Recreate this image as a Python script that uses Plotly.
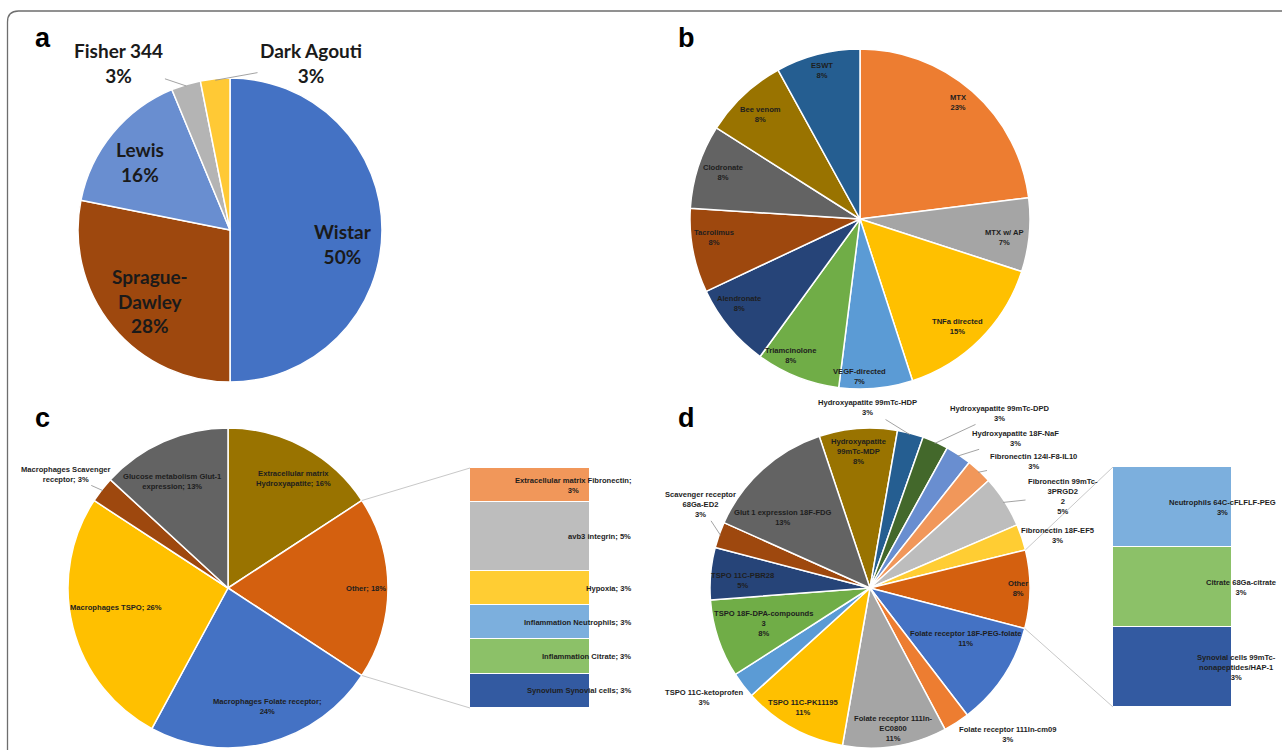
import math
import plotly.graph_objects as go

W, H = 1282, 750

# ------------------------------------------------------------------ data
# a: rat strains (number of studies)
a_labels = ["Wistar", "Sprague-<br>Dawley", "Lewis", "Fisher 344", "Dark Agouti"]
a_values = [16, 9, 5, 1, 1]

# b: treatments (percent)
b_labels = ["MTX", "MTX w/ AP", "TNFa directed", "VEGF-directed", "Triamcinolone",
            "Alendronate", "Tacrolimus", "Clodronate", "Bee venom", "ESWT"]
b_values = [23, 7, 15, 7, 8, 8, 8, 8, 8, 8]

# c: imaging targets (number of studies)
c_labels = ["Extracellular matrix<br>Hydroxyapatite", "Other", "Macrophages Folate receptor",
            "Macrophages TSPO", "Macrophages Scavenger<br>receptor", "Glucose metabolism Glut-1<br>expression"]
c_values = [6, 7, 9, 10, 1, 5]
c_other_labels = ["Extracellular matrix Fibronectin", "avb3 integrin", "Hypoxia",
                  "Inflammation Neutrophils", "Inflammation Citrate", "Synovium Synovial cells"]
c_other_values = [1, 2, 1, 1, 1, 1]

# d: tracers (number of studies)
d_labels = ["Hydroxyapatite<br>99mTc-MDP", "Hydroxyapatite 99mTc-HDP", "Hydroxyapatite 99mTc-DPD",
            "Hydroxyapatite 18F-NaF", "Fibronectin 124I-F8-IL10", "Fibronectin 99mTc-<br>3PRGD2<br>2",
            "Fibronectin 18F-EF5", "Other", "Folate receptor 18F-PEG-folate", "Folate receptor 111In-cm09",
            "Folate receptor 111In-<br>EC0800", "TSPO 11C-PK11195", "TSPO 11C-ketoprofen",
            "TSPO 18F-DPA-compounds<br>3", "TSPO 11C-PBR28", "Scavenger receptor<br>68Ga-ED2",
            "Glut 1 expression 18F-FDG"]
d_values = [3, 1, 1, 1, 1, 2, 1, 3, 4, 1, 4, 4, 1, 3, 2, 1, 5]
d_other_labels = ["Neutrophils 64C-cFLFLF-PEG", "Citrate 68Ga-citrate",
                  "Synovial cells 99mTc-<br>nonapeptides/HAP-1"]
d_other_values = [1, 1, 1]

# ------------------------------------------------------------------ styles / layout
a_colors = ["#4472C4", "#9E480E", "#698ED0", "#B4B4B4", "#FFC935"]
b_colors = ["#ED7D31", "#A5A5A5", "#FFC000", "#5B9BD5", "#70AD47",
            "#264478", "#9E480E", "#636363", "#997300", "#255E91"]
c_colors = ["#997300", "#D4600F", "#4472C4", "#FFC000", "#9E480E", "#636363"]
c_other_colors = ["#F1975A", "#BDBDBD", "#FFCD33", "#7CAFDD", "#8CC168", "#335AA1"]
d_colors = ["#997300", "#255E91", "#43682B", "#698ED0", "#F1975A", "#BDBDBD", "#FFCD33",
            "#D4600F", "#4472C4", "#ED7D31", "#A5A5A5", "#FFC000", "#5B9BD5", "#70AD47",
            "#264478", "#9E480E", "#636363"]
d_other_colors = ["#7CAFDD", "#8CC168", "#335AA1"]

PIE = {  # center x, center y, radius, rotation (pixels / degrees)
    "a": (230, 230, 152, 0),
    "b": (860, 219, 170, 0),
    "c": (228, 588, 160, 0),
    "d": (870, 588, 160, -18.5),
}
BAR = {  # x0, x1, y_top, y_bottom
    "c": (470, 590, 468, 708),
    "d": (1113, 1232, 467, 707),
}
a_text_xy = [(343, 244), (150, 301), (140, 162), (118, 63), (311, 63)]
a_arrow = [False, False, False, True, True]
b_text_xy = [(958, 103), (1004, 237), (958, 327), (859, 376), (790, 355),
             (739, 303), (714, 237), (723, 172), (760, 115), (822, 70)]
c_text_xy = [(293, 478), (366, 588), (267, 706), (116, 607), (66, 474), (172, 481)]
c_arrow = [False, False, False, False, True, False]
d_text_xy = [(858, 451), (867, 408), (1000, 413), (1015, 438), (1033, 461), (1063, 496),
             (1058, 535), (1018, 588), (965, 638), (1008, 734), (893, 728), (803, 707),
             (704, 697), (763, 623), (742, 580), (700, 504), (783, 517)]
d_arrow = [False, True, True, True, True, True, False, False, False, False, False,
           False, False, False, False, True, False]

BIG_FONT = dict(family="Lato", size=19, color="#1a1a1a", weight="bold")
SMALL_FONT = dict(family="Liberation Sans Narrow, Liberation Sans", size=7.6, color="#1e1e1e",
                  weight="bold")
LETTER_FONT = dict(family="Liberation Sans", size=27, color="#000000", weight="bold")


def fx(px):
    return px / W


def fy(py):
    return 1 - py / H


def pct(v, total):
    return f"{round(100 * v / total)}%"


def slice_angles(values, rotation):
    tot = sum(values)
    out, cum = [], 0
    for v in values:
        a0 = rotation + 360 * cum / tot
        a1 = rotation + 360 * (cum + v) / tot
        out.append((a0, a1))
        cum += v
    return out


def edge_point(key, ang, k=1.0):
    cx, cy, r, _ = PIE[key]
    t = math.radians(ang)
    return cx + k * r * math.sin(t), cy - k * r * math.cos(t)


fig = go.Figure()
annotations = []
shapes = []


def add_pie(key, labels, values, colors):
    cx, cy, r, rot = PIE[key]
    fig.add_trace(go.Pie(
        labels=[l.replace("<br>", " ") for l in labels], values=values, sort=False,
        direction="clockwise", rotation=rot, textinfo="none", hoverinfo="label+percent",
        marker=dict(colors=colors, line=dict(color="white", width=1.5)),
        domain=dict(x=[fx(cx - r), fx(cx + r)], y=[fy(cy + r), fy(cy - r)]),
        showlegend=False,
    ))


def add_labels(key, texts, xy, arrows, values, font):
    angs = slice_angles(values, PIE[key][3])
    for i, t in enumerate(texts):
        tx, ty = xy[i]
        if arrows[i]:
            mid = (angs[i][0] + angs[i][1]) / 2
            hx, hy = edge_point(key, mid, 0.99)
            annotations.append(dict(
                x=fx(hx), y=fy(hy), xref="paper", yref="paper", text=t,
                showarrow=True, arrowhead=0, arrowwidth=0.8, arrowcolor="#8c8c8c",
                ax=tx - hx, ay=ty - hy, axref="pixel", ayref="pixel",
                standoff=0, startstandoff=1, font=font, align="center"))
        else:
            annotations.append(dict(
                x=fx(tx), y=fy(ty), xref="paper", yref="paper", text=t, showarrow=False,
                xanchor="center", yanchor="middle", font=font, align="center"))


# ---- a
add_pie("a", a_labels, a_values, a_colors)
a_tot = sum(a_values)
add_labels("a", [f"{l}<br>{pct(v, a_tot)}" for l, v in zip(a_labels, a_values)],
           a_text_xy, a_arrow, a_values, BIG_FONT)

# ---- b
add_pie("b", b_labels, b_values, b_colors)
b_tot = sum(b_values)
add_labels("b", [f"{l}<br>{pct(v, b_tot)}" for l, v in zip(b_labels, b_values)],
           b_text_xy, [False] * len(b_labels), b_values, SMALL_FONT)

# ---- c
add_pie("c", c_labels, c_values, c_colors)
c_tot = sum(c_values)
c_texts = []
for l, v in zip(c_labels, c_values):
    sep = ";<br>" if l == "Macrophages Folate receptor" else "; "
    c_texts.append(f"{l}{sep}{pct(v, c_tot)}")
add_labels("c", c_texts, c_text_xy, c_arrow, c_values, SMALL_FONT)

# ---- d
add_pie("d", d_labels, d_values, d_colors)
d_tot = sum(d_values)
add_labels("d", [f"{l}<br>{pct(v, d_tot)}" for l, v in zip(d_labels, d_values)],
           d_text_xy, d_arrow, d_values, SMALL_FONT)


# ---- bar-of-pie breakouts
def add_bar(key, axn, labels, values, colors, total, other_index, pie_values, label_right, text_fn):
    x0, x1, yt, yb = BAR[key]
    xa, ya = f"x{axn}", f"y{axn}"
    n = len(values)
    # stack from bottom: last listed is at the bottom
    for i in reversed(range(n)):
        fig.add_trace(go.Bar(
            x=[0], y=[values[i]], width=1, xaxis=xa, yaxis=ya,
            marker=dict(color=colors[i], line=dict(color="white", width=1.5)),
            name=labels[i].replace("<br>", " "), showlegend=False, hoverinfo="name"))
    fig.update_layout(**{
        f"xaxis{axn}": dict(domain=[fx(x0), fx(x1)], range=[-0.5, 0.5], visible=False,
                            anchor=ya, fixedrange=True),
        f"yaxis{axn}": dict(domain=[fy(yb), fy(yt)], range=[0, sum(values)], visible=False,
                            anchor=xa, fixedrange=True),
    })
    cum = 0
    for i in reversed(range(n)):
        mid = cum + values[i] / 2
        cum += values[i]
        annotations.append(dict(
            x=fx(label_right), y=mid, xref="paper", yref=ya, text=text_fn(labels[i], values[i], total),
            showarrow=False, xanchor="right", yanchor="middle", align="center", font=SMALL_FONT))
    # connector lines from the "Other" slice to the bar
    a0, a1 = slice_angles(pie_values, PIE[key][3])[other_index]
    p0 = edge_point(key, a0)
    p1 = edge_point(key, a1)
    for (px_, py_), (qx, qy) in [(p0, (x0, yt)), (p1, (x0, yb))]:
        shapes.append(dict(type="line", xref="paper", yref="paper",
                           x0=fx(px_), y0=fy(py_), x1=fx(qx), y1=fy(qy),
                           line=dict(color="#c8c8c8", width=1)))


def c_bar_text(l, v, tot):
    sep = ";<br>" if l == "Extracellular matrix Fibronectin" else "; "
    return f"{l}{sep}{pct(v, tot)}"


def d_bar_text(l, v, tot):
    return f"{l}<br>{pct(v, tot)}"


add_bar("c", 2, c_other_labels, c_other_values, c_other_colors, c_tot,
        c_labels.index("Other"), c_values, 633, c_bar_text)
add_bar("d", 3, d_other_labels, d_other_values, d_other_colors, d_tot,
        d_labels.index("Other"), d_values, 1278, d_bar_text)

# ---- panel letters
for letter, (lx, ly) in {"a": (43, 38), "b": (686, 38), "c": (42, 418), "d": (686, 418)}.items():
    annotations.append(dict(x=fx(lx), y=fy(ly), xref="paper", yref="paper", text=letter,
                            showarrow=False, xanchor="center", yanchor="middle", font=LETTER_FONT))

# ---- frame (rounded top-left corner)
shapes.append(dict(
    type="path", xref="paper", yref="paper",
    path=(f"M {fx(7.5)},{fy(752)} L {fx(7.5)},{fy(22)} "
          f"Q {fx(7.5)},{fy(11)} {fx(18.5)},{fy(11)} L {fx(1284)},{fy(11)}"),
    line=dict(color="#6e6e6e", width=1.3)))

fig.update_layout(
    width=W, height=H, margin=dict(l=0, r=0, t=0, b=0),
    paper_bgcolor="white", plot_bgcolor="white",
    barmode="stack", bargap=0,
    annotations=annotations, shapes=shapes,
)

fig.write_html("out.html", config={"displayModeBar": False},
               post_script="document.body.style.margin='0';document.body.style.overflow='hidden';")
